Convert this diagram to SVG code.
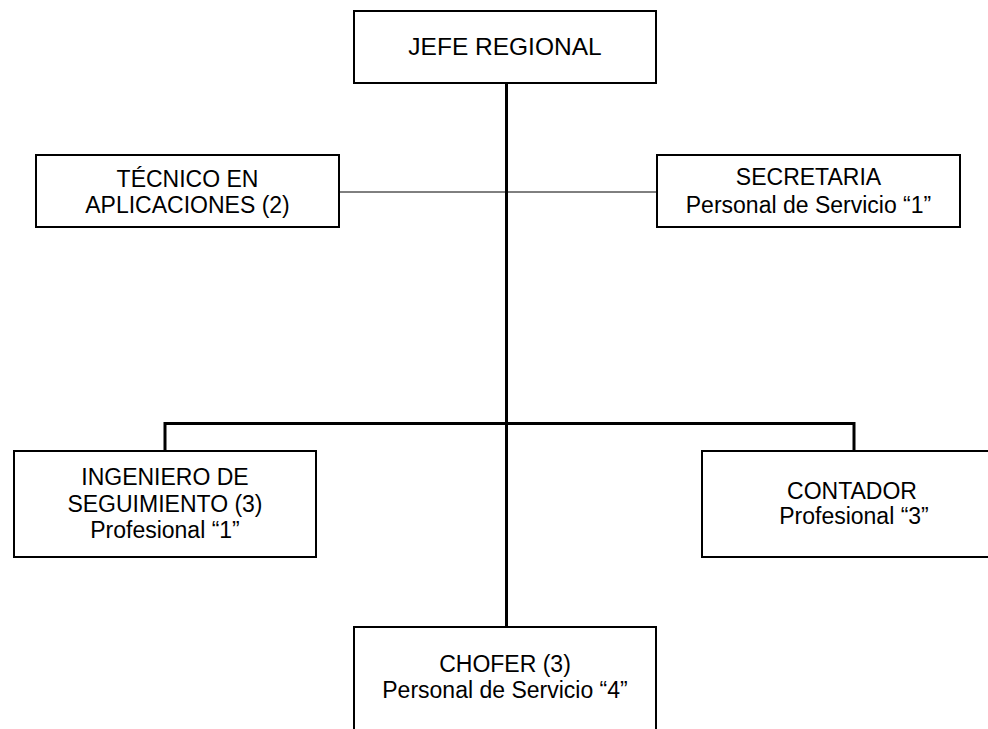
<svg xmlns="http://www.w3.org/2000/svg" width="988" height="729" viewBox="0 0 988 729">
<style>
.box{fill:#fff;stroke:#000;stroke-width:2}
.t{font-family:"Liberation Sans",Arial,sans-serif;font-size:23px;fill:#000;text-anchor:middle}
.thick{stroke:#000;stroke-width:3;fill:none}
.thin{stroke:#000;stroke-width:1;fill:none}
</style>
<rect width="988" height="729" fill="#fff"/>
<g id="connectors">
<line class="thin" x1="339" y1="192" x2="657" y2="192"/>
<line class="thick" x1="506.5" y1="83" x2="506.5" y2="627"/>
<polyline class="thick" points="165,451 165,423.5 854,423.5 854,451"/>
</g>
<g id="jefe">
<rect class="box" x="354" y="11" width="302" height="72"/>
<text class="t" x="505" y="55" style="font-size:24.5px">JEFE REGIONAL</text>
</g>
<g id="tecnico">
<rect class="box" x="36" y="155" width="303" height="72"/>
<text class="t" x="187.5" y="186.5">TÉCNICO EN</text>
<text class="t" x="187.5" y="212.5">APLICACIONES (2)</text>
</g>
<g id="secretaria">
<rect class="box" x="657" y="155" width="303" height="72"/>
<text class="t" x="808.5" y="185">SECRETARIA</text>
<text class="t" x="808.5" y="212.5">Personal de Servicio “1”</text>
</g>
<g id="ingeniero">
<rect class="box" x="14" y="451" width="302" height="106"/>
<text class="t" x="165" y="485">INGENIERO DE</text>
<text class="t" x="165" y="511.5">SEGUIMIENTO (3)</text>
<text class="t" x="165" y="538">Profesional “1”</text>
</g>
<g id="contador">
<rect class="box" x="702" y="451" width="304" height="106"/>
<text class="t" x="852" y="499">CONTADOR</text>
<text class="t" x="854" y="523.5">Profesional “3”</text>
</g>
<g id="chofer">
<rect class="box" x="354" y="627" width="302" height="110"/>
<text class="t" x="505" y="672">CHOFER (3)</text>
<text class="t" x="505" y="698">Personal de Servicio “4”</text>
</g>
</svg>
